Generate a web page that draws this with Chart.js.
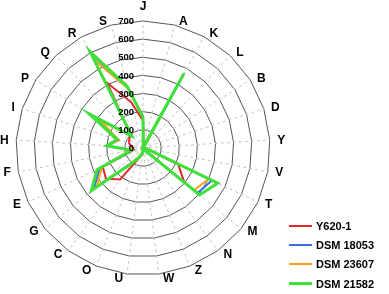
<!DOCTYPE html>
<html>
<head>
<meta charset="utf-8">
<script src="https://cdn.jsdelivr.net/npm/chart.js@4.4.1/dist/chart.umd.min.js"></script>
<style>
  html, body { margin: 0; padding: 0; background: #fff; }
  #wrap { position: relative; width: 389px; height: 294px; }
  #legend { position: absolute; left: 289px; top: 216px; font: bold 11px Arial, "Liberation Sans", sans-serif; color: #000; }
  .row { display: flex; align-items: center; height: 19.3px; }
  .swatch { width: 23px; margin-right: 4px; }
</style>
</head>
<body>
<div id="wrap">
  <canvas id="radarCanvas"></canvas>
  <div id="legend"></div>
</div>
<script>
const categories = ["J", "A", "K", "L", "B", "D", "Y", "V", "T", "M", "N", "Z", "W",
  "U", "O", "C", "G", "E", "F", "H", "I", "P", "Q", "R", "S"];

//                J    A    K   L   B   D   Y   V    T    M   N   Z   W   U   O    C    G    E   F    H    I    P    Q    R    S
const y620 =   [150, 10, 205, 10, 10, 10, 10, 20, 215, 295, 15, 15, 20, 35, 60, 215, 265, 245, 50, 60, 80, 90, 100, 410, 260];
const dsm18053 = [175, 5, 460, 5, 10, 10, 5, 20, 420, 390, 10, 10, 15, 30, 55, 100, 350, 265, 65, 200, 140, 330, 90, 585, 350];
const dsm23607 = [170, 8, 220, 8, 10, 10, 8, 20, 400, 365, 10, 12, 15, 35, 60, 110, 330, 250, 70, 198, 140, 275, 95, 550, 340];
const dsm21582 = [170, 5, 470, 5, 10, 10, 5, 20, 455, 405, 10, 10, 10, 30, 55, 100, 370, 280, 65, 200, 150, 350, 90, 605, 350];

const tickValues = [0, 100, 200, 300, 400, 500, 600, 700];

const series = [
  { label: "Y620-1", data: y620, color: "#e3262a", width: 2 },
  { label: "DSM 18053", data: dsm18053, color: "#3b6fe0", width: 2 },
  { label: "DSM 23607", data: dsm23607, color: "#f5a31f", width: 2 },
  { label: "DSM 21582", data: dsm21582, color: "#3fe03a", width: 3 },
];

const FONT = "Arial, 'Liberation Sans', sans-serif";

// tick labels sit left of the vertical axis, "0" included
const tickLabelPlugin = {
  id: "tickLabels",
  afterDatasetsDraw(chart) {
    const r = chart.scales.r;
    const ctx = chart.ctx;
    ctx.save();
    ctx.font = "bold 9.5px " + FONT;
    ctx.fillStyle = "#000";
    ctx.textAlign = "right";
    ctx.textBaseline = "middle";
    tickValues.forEach((v) => {
      const d = r.getDistanceFromCenterForValue(v);
      ctx.fillText(String(v), r.xCenter - 9, r.yCenter - d + 0.5);
    });
    ctx.restore();
  },
};

// category labels, excel style: left/right aligned off the outer ring
const pointLabelPlugin = {
  id: "catLabels",
  afterDraw(chart) {
    const r = chart.scales.r;
    const ctx = chart.ctx;
    ctx.save();
    ctx.font = "bold 12px " + FONT;
    ctx.fillStyle = "#000";
    categories.forEach((c, i) => {
      const s = Math.sin(r.getIndexAngle(i));
      if (Math.abs(s) < 1e-6) {
        ctx.textAlign = "center";
        ctx.textBaseline = "alphabetic";
        ctx.fillText(c, r.xCenter, r.yCenter - r.drawingArea - 11);
        return;
      }
      const p = r.getPointPosition(i, r.drawingArea + 4);
      ctx.textAlign = s > 0 ? "left" : "right";
      ctx.textBaseline = "middle";
      ctx.fillText(c, p.x + (s > 0 ? 3.5 : -3.5), p.y + 0.5);
    });
    ctx.restore();
  },
};

const ctx = document.getElementById("radarCanvas").getContext("2d");
new Chart(ctx, {
  type: "radar",
  data: {
    labels: categories,
    datasets: series.map((s, i) => ({
      label: s.label,
      data: s.data,
      borderColor: s.color,
      borderWidth: s.width,
      backgroundColor: "transparent",
      fill: false,
      pointRadius: 0,
      tension: 0,
      order: series.length - i,
    })),
  },
  options: {
    responsive: true,
    maintainAspectRatio: false,
    animation: false,
    layout: { padding: { left: 16, right: 118, top: 21, bottom: 18 } },
    plugins: { legend: { display: false }, tooltip: { enabled: false } },
    scales: {
      r: {
        min: 0,
        max: 700,
        ticks: { stepSize: 100, display: false },
        grid: { color: "#555", lineWidth: 1 },
        angleLines: { color: "#c4c4c4", borderDash: [3, 3] },
        pointLabels: { display: false },
      },
    },
  },
  plugins: [tickLabelPlugin, pointLabelPlugin],
});

// legend
const legend = document.getElementById("legend");
series.forEach((s) => {
  const row = document.createElement("div");
  row.className = "row";
  const sw = document.createElement("div");
  sw.className = "swatch";
  sw.style.borderTop = s.width + "px solid " + s.color;
  const txt = document.createElement("span");
  txt.textContent = s.label;
  row.appendChild(sw);
  row.appendChild(txt);
  legend.appendChild(row);
});
</script>
</body>
</html>
